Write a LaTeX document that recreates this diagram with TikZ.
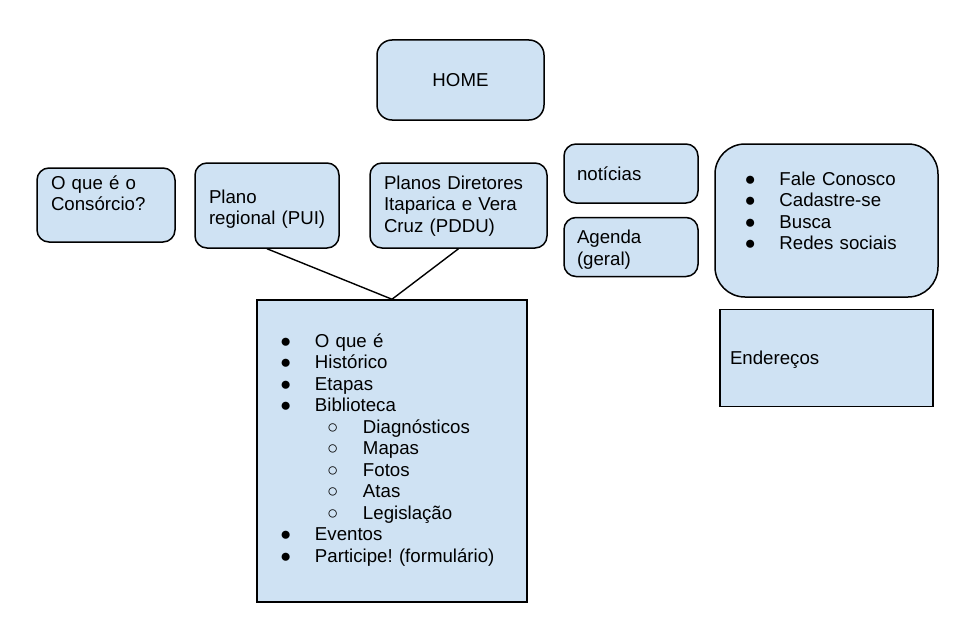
\documentclass[tikz,border=0pt]{standalone}
\usepackage{fontspec}
\setmainfont{Liberation Sans}
\usepackage{tikz}
\usetikzlibrary{positioning}
\usepackage{xcolor}
\definecolor{gdlightblue}{RGB}{207,226,243}
\frenchspacing
\newcommand{\itembul}[1]{\makebox[35pt][l]{●}#1}
\newcommand{\itemsub}[1]{\hspace*{47pt}\makebox[36pt][l]{○}#1}
\tikzstyle{pagebox} = [draw=black, line width=1.5pt, fill=gdlightblue, rounded corners=12pt, font=\fontsize{18.67}{21.5}\selectfont, align=left, inner ysep=0pt, text height=15pt]
\tikzstyle{listbox} = [pagebox, sharp corners]
\tikzstyle{link} = [line width=1.4pt, black]

\begin{document}
\begin{tikzpicture}[x=1pt, y=-1pt]
\useasboundingbox (0,0) rectangle (959,626);
% Pages
\node[pagebox, rounded corners=15pt, minimum width=167pt, minimum height=80pt, text depth=2pt] (home) at (460.5,80) {HOME};
\node[pagebox, inner xsep=14pt, text width=110pt, minimum height=74pt, text depth=47pt] (consorcio) at (106,205) {O que é o\\Consórcio?};
\node[pagebox, inner xsep=14pt, text width=116pt, minimum height=85pt, text depth=20pt] (regional) at (267,205.5) {Plano\\regional~(PUI)};
\node[pagebox, inner xsep=14pt, text width=149pt, minimum height=85pt, text depth=48pt] (pddu) at (458.5,205.5) {Planos Diretores\\Itaparica e Vera\\Cruz (PDDU)};
\node[pagebox, inner xsep=13pt, text width=108pt, minimum height=59pt, text depth=2pt] (noticias) at (631,173.5) {notícias};
\node[pagebox, inner xsep=13pt, text width=108pt, minimum height=59pt, text depth=22pt, below=13pt of noticias] (agenda) {Agenda\\(geral)};
\node[pagebox, rounded corners=30pt, inner xsep=29.5pt, text width=164pt, minimum height=153pt, text depth=86pt] (contato) at (826.5,220.5)
  {\itembul{Fale Conosco}\\\itembul{Cadastre-se}\\\itembul{Busca}\\\itembul{Redes sociais}};
\node[listbox, inner xsep=10pt, text width=193pt, minimum height=97pt, text depth=2pt, below=11pt of contato] (enderecos) {Endereços};

% Plan contents
\node[listbox, inner xsep=23pt, text width=224pt, minimum height=302pt, text depth=223pt] (plano) at (392,451)
  {\itembul{O que é}\\\itembul{Histórico}\\\itembul{Etapas}\\\itembul{Biblioteca}\\
   \itemsub{Diagnósticos}\\\itemsub{Mapas}\\\itemsub{Fotos}\\\itemsub{Atas}\\\itemsub{Legislação}\\
   \itembul{Eventos}\\\itembul{Participe! (formulário)}};

% Links
\draw[link] (regional.south) -- (plano.north);
\draw[link] (pddu.south) -- (plano.north);
\end{tikzpicture}
\end{document}
